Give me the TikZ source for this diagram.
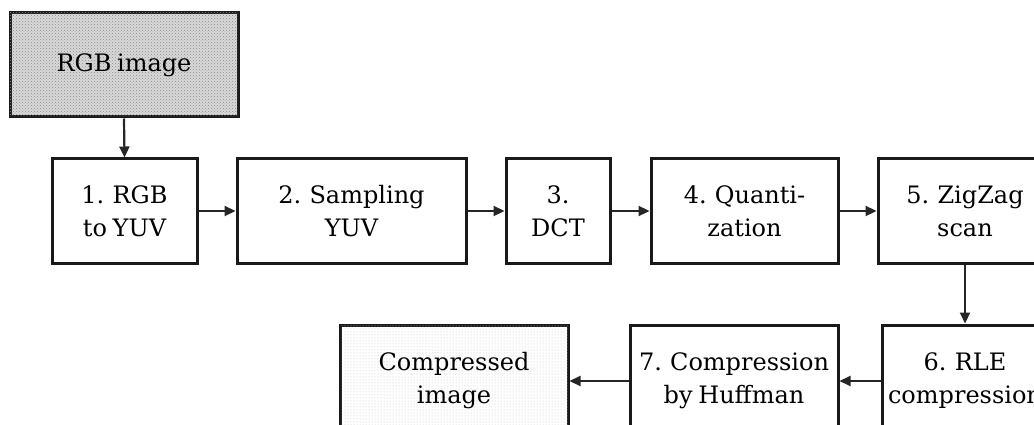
\documentclass[tikz,border=0pt]{standalone}
\usepackage{fontspec}
\setmainfont{DejaVu Serif}[WordSpace=0.75]
\usetikzlibrary{arrows.meta,patterns}
\begin{document}
\begin{tikzpicture}[x=1pt,y=-1pt,
  stepbox/.style={draw=black!90, line width=3pt, align=center, inner sep=0pt,
    font=\fontsize{24}{33}\selectfont, text=black},
  conn/.style={line width=2.2pt, draw=black!85, -{Triangle[length=11pt,width=10pt]}},
  densefill/.style={fill=gray!30, postaction={pattern=crosshatch dots, pattern color=gray!90}},
  lightfill/.style={fill=white, postaction={pattern=dots, pattern color=gray!45}}
]
\useasboundingbox (0,0) rectangle (1034,425);
\clip (0,0) rectangle (1034,425);
\node[stepbox, densefill, minimum width=228pt, minimum height=104pt] (rgb) at (124,65) {RGB image};
\node[stepbox, minimum width=145pt, minimum height=104pt] (s1) at (124.5,211) {1. RGB\\to YUV};
\node[stepbox, minimum width=229pt, minimum height=104pt] (s2) at (351.5,211) {2. Sampling\\YUV};
\node[stepbox, minimum width=104pt, minimum height=104pt] (s3) at (558,211) {3.\\DCT};
\node[stepbox, minimum width=187pt, minimum height=104pt] (s4) at (744.5,211) {4. Quanti-\\zation};
\node[stepbox, minimum width=174pt, minimum height=104pt] (s5) at (965,211) {5. ZigZag\\scan};
\node[stepbox, minimum width=166pt, minimum height=112pt] (s6) at (965,381) {6. RLE\\compression};
\node[stepbox, minimum width=208pt, minimum height=112pt] (s7) at (734,381) {7. Compression\\by Huffman};
\node[stepbox, lightfill, minimum width=228pt, minimum height=112pt] (out) at (454,381) {Compressed\\image};
\draw[conn] (rgb.south) -- (s1.north);
\draw[conn] (s1) -- (s2);
\draw[conn] (s2) -- (s3);
\draw[conn] (s3) -- (s4);
\draw[conn] (s4) -- (s5);
\draw[conn] (s5.south) -- (s6.north);
\draw[conn] (s6) -- (s7);
\draw[conn] (s7) -- (out);
\end{tikzpicture}
\end{document}
